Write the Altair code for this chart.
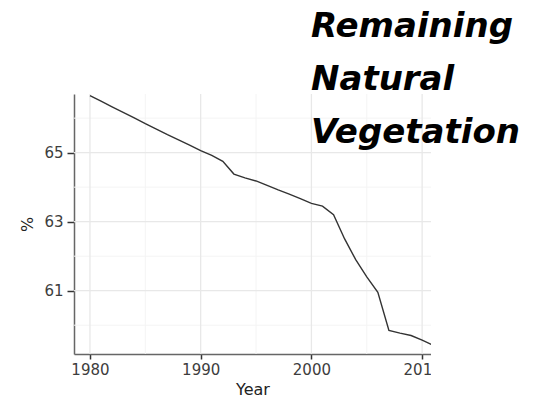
import altair as alt
import pandas as pd

years = list(range(1980, 2012))
values = [66.65, 66.49, 66.33, 66.17, 66.01, 65.84, 65.68, 65.52, 65.37, 65.22,
          65.06, 64.92, 64.75, 64.38, 64.27, 64.18, 64.05, 63.92, 63.80, 63.67,
          63.53, 63.45, 63.20, 62.50, 61.90, 61.40, 60.95, 59.85, 59.77, 59.70,
          59.57, 59.42]
x_major = [1980, 1990, 2000, 2010]
x_minor = [1985, 1995, 2005]
y_major = [61, 63, 65]
y_minor = [60, 62, 64, 66]
title_lines = ["Remaining", "Natural", "Vegetation"]

df = pd.DataFrame({"Year": years, "pct": values})
xs = alt.Scale(domain=[1978.56, 2010.8], nice=False, zero=False)
ys = alt.Scale(domain=[59.165, 66.70], nice=False, zero=False)

W, H = 357, 260

axis_common = dict(grid=False, labelFont="DejaVu Sans", labelFontSize=15, labelColor="#3d3d3d",
                   titleFont="DejaVu Sans", titleFontSize=16, titleColor="#222222", titleFontWeight="normal",
                   domainColor="#666666", domainWidth=1.5, tickColor="#333333", tickWidth=1.5)
x_axis = alt.Axis(values=x_major, format="d", tickSize=5, labelPadding=3, titlePadding=4, **axis_common)
y_axis = alt.Axis(values=y_major, format="d", tickSize=7, labelPadding=4, titlePadding=8, **axis_common)

vminor = alt.Chart(pd.DataFrame({"v": x_minor})).mark_rule(color="#f4f4f4", strokeWidth=1).encode(
    x=alt.X("v:Q", scale=xs, axis=x_axis, title="Year"))
vmajor = alt.Chart(pd.DataFrame({"v": x_major})).mark_rule(color="#e8e8e8", strokeWidth=1.3, clip=True).encode(
    x=alt.X("v:Q", scale=xs, axis=x_axis, title="Year"))
hminor = alt.Chart(pd.DataFrame({"v": y_minor})).mark_rule(color="#f4f4f4", strokeWidth=1).encode(
    y=alt.Y("v:Q", scale=ys, axis=y_axis, title="%"))
hmajor = alt.Chart(pd.DataFrame({"v": y_major})).mark_rule(color="#e8e8e8", strokeWidth=1.3).encode(
    y=alt.Y("v:Q", scale=ys, axis=y_axis, title="%"))

line = alt.Chart(df).mark_line(color="#333333", strokeWidth=1.4, clip=True).encode(
    x=alt.X("Year:Q", scale=xs, axis=x_axis, title="Year"),
    y=alt.Y("pct:Q", scale=ys, axis=y_axis, title="%"),
)

# white box of the overlaid title, which hides the right part of the original chart
box = alt.Chart(pd.DataFrame({"t": [0]})).mark_rect(color="white", clip=False).encode(
    x=alt.value(W), x2=alt.value(W + 120), y=alt.value(-100), y2=alt.value(H + 60))

title = alt.Chart(pd.DataFrame({"t": [0]})).mark_text(
    align="left", baseline="alphabetic", font="DejaVu Sans", fontSize=34, fontWeight="bold",
    fontStyle="italic", lineHeight=53, color="#000000", clip=False
).encode(x=alt.value(237), y=alt.value(-57), text=alt.value(title_lines))

chart = alt.layer(vminor, hminor, vmajor, hmajor, line, box, title).properties(
    width=W, height=H,
    autosize=alt.AutoSizeParams(type="none"),
    padding={"left": 66, "top": 86, "right": 100, "bottom": 42},
).configure_view(stroke=None)

chart.save("out.html", embed_options={"renderer": "svg", "actions": False})
